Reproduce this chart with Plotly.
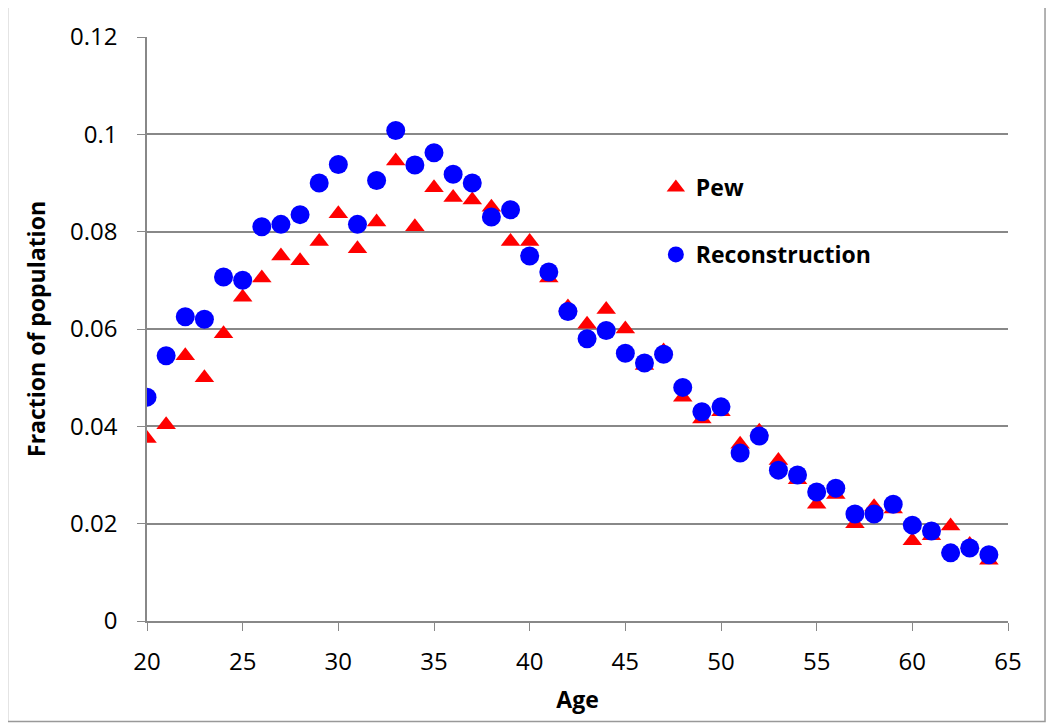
import plotly.graph_objects as go

ages = list(range(20, 65))

pew = [0.0375, 0.0403, 0.0545, 0.050, 0.059, 0.0665, 0.0705, 0.075, 0.074, 0.078,
       0.0837, 0.0765, 0.082, 0.0945, 0.081, 0.089, 0.087, 0.0865, 0.085, 0.078,
       0.078, 0.0705, 0.0645, 0.061, 0.064, 0.060, 0.0525, 0.0555, 0.046, 0.0415,
       0.043, 0.0363, 0.039, 0.033, 0.029, 0.024, 0.026, 0.020, 0.0235, 0.023,
       0.0165, 0.0175, 0.0195, 0.0157, 0.0125]

recon = [0.046, 0.0545, 0.0625, 0.062, 0.0707, 0.070, 0.081, 0.0815, 0.0835, 0.090,
         0.0938, 0.0815, 0.0905, 0.1008, 0.0937, 0.0962, 0.0918, 0.090, 0.083, 0.0845,
         0.075, 0.0717, 0.0636, 0.058, 0.0597, 0.055, 0.053, 0.0548, 0.048, 0.043,
         0.044, 0.0345, 0.038, 0.031, 0.030, 0.0265, 0.0273, 0.022, 0.022, 0.024,
         0.0197, 0.0185, 0.014, 0.015, 0.0136]

x_ticks = [20, 25, 30, 35, 40, 45, 50, 55, 60, 65]
y_ticks = [0, 0.02, 0.04, 0.06, 0.08, 0.1, 0.12]

fig = go.Figure()
fig.add_trace(go.Scatter(
    x=ages, y=pew, mode="markers", name="Pew", legendgroup="a",
    marker=dict(symbol="triangle-up", size=17, color="#ff0000"),
))
fig.add_trace(go.Scatter(
    x=ages, y=recon, mode="markers", name="Reconstruction", legendgroup="b",
    marker=dict(symbol="circle", size=19, color="#0000ff"),
))

font_main = "Open Sans, Liberation Sans, sans-serif"

fig.update_layout(
    width=1054, height=727,
    margin=dict(l=139, r=54, t=29, b=114),
    paper_bgcolor="white", plot_bgcolor="white",
    font=dict(family=font_main, size=20, color="black"),
    showlegend=True,
    legend=dict(
        x=0.591, y=0.779, xanchor="left", yanchor="top",
        bgcolor="rgba(0,0,0,0)", borderwidth=0,
        font=dict(size=23, color="black", family=font_main, weight="bold"),
        tracegroupgap=34, traceorder="grouped",
    ),
    xaxis=dict(
        range=[20, 65], tickmode="array", tickvals=x_ticks,
        showgrid=False, zeroline=False,
        showline=True, linecolor="#888888", linewidth=1.5,
        ticks="outside", ticklen=8, tickcolor="#888888",
        tickfont=dict(size=24), ticklabelstandoff=10,
        title=dict(text="<b>Age</b>", font=dict(size=23), standoff=16),
    ),
    yaxis=dict(
        range=[0, 0.12], tickmode="array", tickvals=y_ticks,
        showgrid=True, gridcolor="#888888", gridwidth=1.5,
        zeroline=False,
        showline=True, linecolor="#888888", linewidth=1.5,
        ticks="outside", ticklen=8, tickcolor="#888888",
        tickfont=dict(size=24), ticklabelstandoff=15,
        title=dict(text="<b>Fraction of population</b>", font=dict(size=23), standoff=18),
    ),
    shapes=[dict(
        type="rect", xref="paper", yref="paper",
        x0=-0.162, x1=1.043, y0=-0.172, y1=1.055,
        line=dict(color="#999999", width=1.5), fillcolor="rgba(0,0,0,0)", layer="below",
    )],
)

fig.write_html("out.html")
